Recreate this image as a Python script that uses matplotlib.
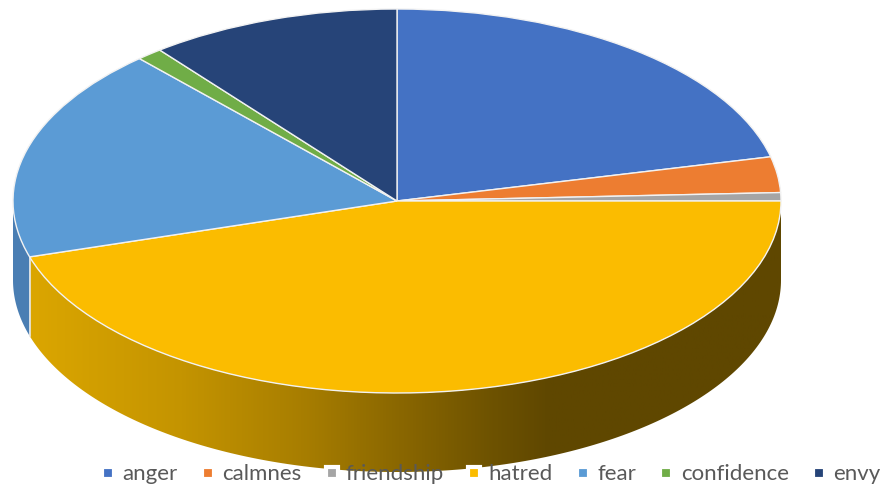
#!/usr/bin/python

import numpy as np
import matplotlib
matplotlib.use("Agg")
import matplotlib.pyplot as plt
from matplotlib.colors import LinearSegmentedColormap
from matplotlib.lines import Line2D
from matplotlib.patches import Polygon

labels = ["anger", "calmnes", "friendship", "hatred", "fear", "confidence", "envy"]
values = [21.3, 3.0, 0.7, 45.3, 18.0, 1.1, 10.6]
colors = ["#4472C4", "#ED7D31", "#A5A5A5", "#FBBC00", "#5B9BD5", "#70AD47", "#264478"]

# side wall shading, left to right
wall_colors = ["#DBA600", "#C49400", "#A87E00", "#8A6700", "#6C5100", "#5F4700", "#5F4700"]
wall_stops = [0.0, 0.2, 0.36, 0.49, 0.62, 0.69, 1.0]
fear_wall = "#4A7EB3"

# pixel geometry of the tilted pie
W, H = 882, 487
cx, cy = 397, 201
rx, ry = 384, 192
depth = 79 / ry

fig = plt.figure(figsize=(W / 100, H / 100), dpi=100)
ax = fig.add_axes([0, 0, 1, 1])


def wall(t0, t1):
    t = np.radians(np.linspace(t0, t1, 200))
    x = np.cos(t)
    y = np.sin(t)
    xy = np.r_[np.c_[x, y], np.c_[x[::-1], y[::-1] - depth]]
    return xy


# angles in matplotlib terms, clockwise from 12 o'clock
edges = 90 - 3.6 * np.cumsum([0] + values)
hat_start, hat_end = edges[3], edges[4]

ax.add_patch(Polygon(wall(hat_end, -180), closed=True, fc=fear_wall, ec="none", zorder=1))

cmap = LinearSegmentedColormap.from_list("wall", list(zip(wall_stops, wall_colors)))
grad = np.linspace(0, 1, 512).reshape(1, -1)
xleft = np.cos(np.radians(hat_end))
im = ax.imshow(grad, cmap=cmap, extent=[xleft, 1.005, -1.5, 0.3], aspect="auto", zorder=2)
clip = Polygon(wall(hat_end, hat_start), closed=True, fc="none", ec="none", transform=ax.transData)
ax.add_patch(clip)
im.set_clip_path(clip)

# pale seam between the two walls
xs = xleft
ys = np.sin(np.radians(hat_end))
ax.plot([xs, xs], [ys, ys - depth], color="#E8E8E8", lw=1.2, zorder=3)

ax.pie(values, colors=colors, startangle=90, counterclock=False, radius=1,
       wedgeprops={"edgecolor": "#F2F2F2", "linewidth": 1.0, "zorder": 4})

ax.set_aspect("auto")
ax.set_xlim(-cx / rx, (W - cx) / rx)
ax.set_ylim((cy - H) / ry, cy / ry)
ax.axis("off")

handles = [Line2D([], [], ls="none", marker="s", ms=8.8, mfc=c, mec="white", mew=3) for c in colors]
leg = ax.legend(handles, labels, ncol=7, frameon=False, loc="lower left",
                bbox_to_anchor=(97 / W, -0.006), bbox_transform=fig.transFigure,
                borderaxespad=0.0, borderpad=0.25, handlelength=0.5, handletextpad=0.4,
                columnspacing=1.1, prop={"family": "Lato", "size": 16})
leg.set_zorder(6)
for t in leg.get_texts():
    t.set_color("#595959")

fig.savefig("out.png", dpi=100, facecolor="white")
